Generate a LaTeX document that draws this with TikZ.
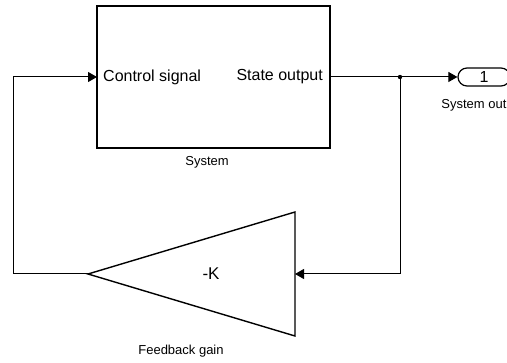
\documentclass[tikz,border=0pt]{standalone}
\usepackage{fontspec}
\setmainfont{Liberation Sans}
\usetikzlibrary{arrows.meta,shapes.geometric}
\begin{document}
\begin{tikzpicture}[x=1pt, y=-1pt,
    wire/.style={line width=1pt},
    sig/.style={wire, -{Triangle[length=9pt, width=10pt]}},
    block/.style={draw, line width=1.4pt, inner sep=0pt, outer sep=0pt},
    port/.style={font=\fontsize{16}{18}\selectfont, inner sep=0pt},
    caption/.style={font=\fontsize{13}{15}\selectfont}]
    \useasboundingbox (0,0) rectangle (507,363);
    % Block positions
    \coordinate (sysc) at (213.5, 77);
    \coordinate (branch) at (400, 77);
    \coordinate (fbright) at (400, 274);
    \coordinate (fbleft) at (13, 274);
    \coordinate (gaintip) at (88, 274);
    % Plant block
    \node [block, minimum width=233pt, minimum height=142pt] (sys) at (sysc) {};
    \node [port, anchor=west] (ctrllabel) at (103, 77) {Control signal};
    \node [port, anchor=east] (statelabel) at (323, 77) {State output};
    \node [caption] (syslabel) at (207, 162) {System};
    % Gain block
    \node [block, isosceles triangle, isosceles triangle stretches,
        shape border rotate=180, minimum width=124pt, minimum height=207pt,
        anchor=apex] (gain) at (gaintip) {};
    \node [font=\fontsize{17}{19}\selectfont] (gainlabel) at (211, 274) {-K};
    \node [caption] (gaincap) at (181, 351) {Feedback gain};
    % Outport
    \node [draw, line width=1.2pt, rounded corners=9pt, minimum width=52pt,
        minimum height=18pt, port] (outp) at (484, 77) {1};
    \node [caption] (outcap) at (483, 105) {System output};
    % Signal lines
    \draw [wire] (sys.east) -- (branch);
    \draw [sig] (branch) -- (outp.west);
    \draw [sig] (branch) -- (fbright) -- (gain.lower side);
    \draw [sig] (gain.apex) -- (fbleft) |- (sys.west);
    \fill (branch) circle[radius=2.2pt];
\end{tikzpicture}
\end{document}
